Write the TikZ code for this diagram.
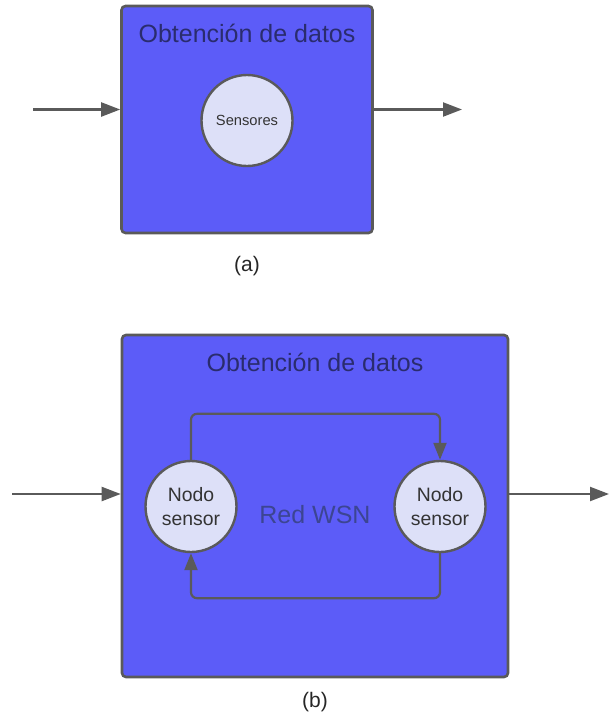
\documentclass[tikz,border=0pt]{standalone}
\usepackage{fontspec}
\setmainfont{Liberation Sans}
\usetikzlibrary{shapes.geometric,arrows.meta}
\definecolor{boxfill}{HTML}{5C5CF8}
\definecolor{edgegray}{HTML}{5A5A5A}
\definecolor{nodefill}{HTML}{DDE0F8}
\definecolor{titleblue}{HTML}{2A2C6E}
\definecolor{netblue}{HTML}{3C4592}
\definecolor{nodetext}{HTML}{333333}
\tikzset{
  block/.style={draw=edgegray, fill=boxfill, line width=2.6pt, rounded corners=4pt, inner sep=0pt},
  sensornode/.style={ellipse, draw=edgegray, fill=nodefill, line width=2.4pt, inner sep=0pt,
    minimum width=91pt, minimum height=91pt, text=nodetext, align=center},
  blocktitle/.style={text=titleblue, font=\fontsize{25}{28}\selectfont},
  flow/.style={draw=edgegray, line width=2.2pt, -{Triangle[length=19pt,width=14pt]}},
  loopflow/.style={draw=edgegray, line width=2.2pt, rounded corners=6pt, -{Triangle[length=17pt,width=13pt]}},
  caption/.style={text=black!85, font=\fontsize{21}{24}\selectfont}
}
\begin{document}
\begin{tikzpicture}[x=1pt,y=-1pt]
\useasboundingbox (0,0) rectangle (609,724);

% ---- (a) single acquisition block ----
\node[block, minimum width=251pt, minimum height=227pt] (boxA) at (247,119.5) {};
\node[blocktitle] (titleA) at (247,33) {Obtención de datos};
\node[sensornode, font=\fontsize{14.7}{17}\selectfont] (sens) at (247,120.5) {Sensores};
\coordinate (inA) at (33,109.5);
\coordinate (outA) at (462,109.5);
\draw[flow] (inA) -- (inA -| boxA.west);
\draw[flow] (outA -| boxA.east) -- (outA);
\node[caption] (capA) at (247,266) {(a)};

% ---- (b) acquisition through a WSN ----
\node[block, minimum width=386pt, minimum height=342pt] (boxB) at (315,506) {};
\node[blocktitle] (titleB) at (315,362) {Obtención de datos};
\node[sensornode, font=\fontsize{19.4}{23.5}\selectfont] (n1) at (191,506.5) {Nodo\\sensor};
\node[sensornode, font=\fontsize{19.4}{23.5}\selectfont] (n2) at (440,506.5) {Nodo\\sensor};
\node[text=netblue, font=\fontsize{25}{28}\selectfont] (wsn) at (315,515) {Red WSN};
\draw[loopflow] (n1.north) -- ++(0,-46) -| (n2.north);
\draw[loopflow] (n2.south) -- ++(0,45) -| (n1.south);
\coordinate (inB) at (12,494);
\coordinate (outB) at (609,494);
\draw[flow] (inB) -- (inB -| boxB.west);
\draw[flow] (outB -| boxB.east) -- (outB);
\node[caption] (capB) at (315,702) {(b)};
\end{tikzpicture}
\end{document}
